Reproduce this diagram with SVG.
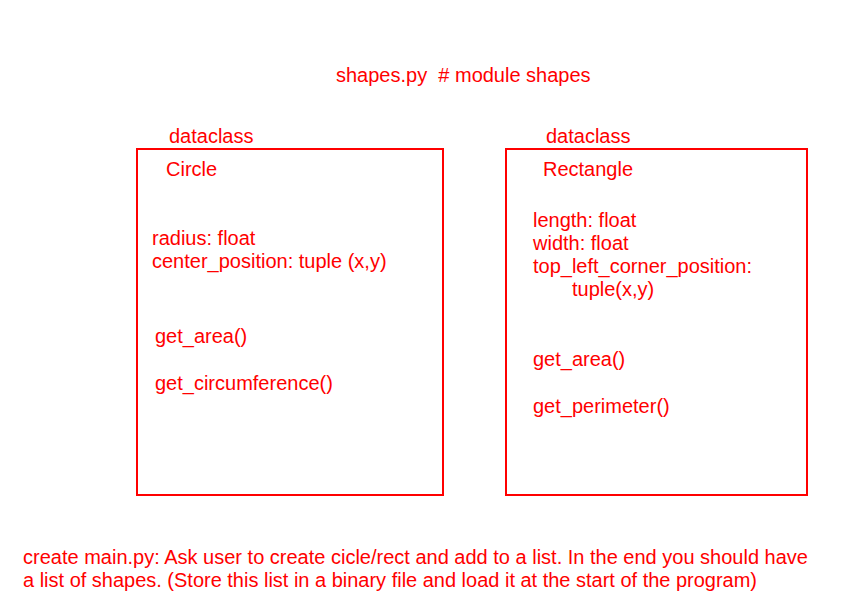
<svg xmlns="http://www.w3.org/2000/svg" width="867" height="605" viewBox="0 0 867 605">
<style>
text{font-family:"Liberation Sans",Arial,sans-serif;font-size:20px;fill:#ff0000;white-space:pre}
.box{fill:none;stroke:#ff0000;stroke-width:2}
</style>
<rect width="867" height="605" fill="#ffffff"/>
<text x="336" y="82" xml:space="preserve">shapes.py  # module shapes</text>
<g id="circle">
<text x="169" y="143">dataclass</text>
<rect class="box" x="137" y="149" width="306" height="346"/>
<text x="166" y="176">Circle</text>
<text x="152" y="245">radius: float</text>
<text x="152" y="268">center_position: tuple (x,y)</text>
<text x="155" y="343">get_area()</text>
<text x="155" y="390">get_circumference()</text>
</g>
<g id="rectangle">
<text x="546" y="143">dataclass</text>
<rect class="box" x="506" y="149" width="301" height="346"/>
<text x="543" y="176">Rectangle</text>
<text x="533" y="227">length: float</text>
<text x="533" y="250">width: float</text>
<text x="533" y="273">top_left_corner_position:</text>
<text x="572" y="296">tuple(x,y)</text>
<text x="533" y="366">get_area()</text>
<text x="533" y="413">get_perimeter()</text>
</g>
<g id="connectors"/>
<text x="23" y="564" textLength="785" lengthAdjust="spacingAndGlyphs">create main.py: Ask user to create cicle/rect and add to a list. In the end you should have</text>
<text x="23" y="587" textLength="734" lengthAdjust="spacingAndGlyphs">a list of shapes. (Store this list in a binary file and load it at the start of the program)</text>
</svg>
